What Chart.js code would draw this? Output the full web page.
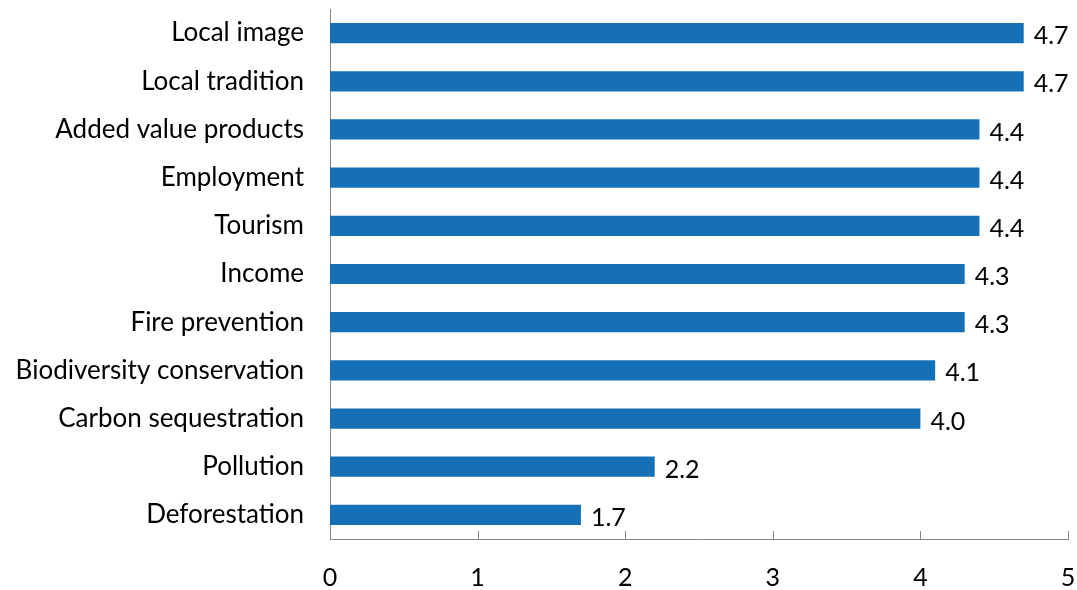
<!DOCTYPE html>
<html>
<head>
<meta charset="utf-8">
<script src="https://cdn.jsdelivr.net/npm/chart.js@4"></script>
<style>
  html, body { margin: 0; padding: 0; background: #fff; }
  #wrap { width: 1077px; height: 590px; }
</style>
</head>
<body>
<div id="wrap"><canvas id="impacts"></canvas></div>
<script>
const categories = [
  "Local image",
  "Local tradition",
  "Added value products",
  "Employment",
  "Tourism",
  "Income",
  "Fire prevention",
  "Biodiversity conservation",
  "Carbon sequestration",
  "Pollution",
  "Deforestation",
];
const scores = [4.7, 4.7, 4.4, 4.4, 4.4, 4.3, 4.3, 4.1, 4.0, 2.2, 1.7];
const xTicks = [0, 1, 2, 3, 4, 5];

const FONT = "Lato, 'Open Sans', sans-serif";
const FSIZE = 25;

// labels at the end of each bar
const barLabels = {
  id: "barLabels",
  afterDatasetsDraw(chart) {
    const { ctx } = chart;
    const meta = chart.getDatasetMeta(0);
    ctx.save();
    ctx.font = FSIZE + "px " + FONT;
    ctx.fillStyle = "#000";
    ctx.textAlign = "left";
    ctx.textBaseline = "middle";
    meta.data.forEach((bar, i) => {
      ctx.fillText(scores[i].toFixed(1), bar.x + 10, bar.y + 3);
    });
    ctx.restore();
  },
};

// small tick marks pointing up from the x axis
const innerTicks = {
  id: "innerTicks",
  afterDraw(chart) {
    const { ctx, chartArea } = chart;
    const x = chart.scales.x;
    ctx.save();
    ctx.strokeStyle = "#888";
    ctx.lineWidth = 1;
    xTicks.forEach((v) => {
      const px = Math.round(x.getPixelForValue(v)) + 0.5;
      ctx.beginPath();
      ctx.moveTo(px, chartArea.bottom);
      ctx.lineTo(px, chartArea.bottom - 8);
      ctx.stroke();
    });
    ctx.restore();
  },
};

new Chart(document.getElementById("impacts"), {
  type: "bar",
  data: {
    labels: categories,
    datasets: [
      {
        data: scores,
        backgroundColor: "#1570b8",
        barPercentage: 0.42,
        categoryPercentage: 1,
      },
    ],
  },
  options: {
    indexAxis: "y",
    responsive: true,
    maintainAspectRatio: false,
    animation: false,
    layout: { padding: { top: 9, right: 9, left: 0, bottom: 0 } },
    plugins: {
      legend: { display: false },
      tooltip: { enabled: false },
    },
    scales: {
      x: {
        min: 0,
        max: 5,
        afterBuildTicks: (s) => { s.ticks = xTicks.map((v) => ({ value: v })); },
        // grid hidden, tick length only used as spacing for the labels
        grid: { display: false, drawTicks: true, tickLength: 24 },
        border: { display: true, color: "#888", width: 1 },
        ticks: {
          color: "#000",
          font: { family: FONT, size: FSIZE },
          padding: 0,
        },
        afterFit: (s) => { s.height = 51; },
      },
      y: {
        grid: { display: false, drawTicks: true, tickLength: 26 },
        border: { display: true, color: "#888", width: 1 },
        ticks: {
          color: "#000",
          font: { family: FONT, size: 26, lineHeight: 0.6 },
          padding: 0,
        },
        afterFit: (s) => { s.width = 330; },
      },
    },
  },
  plugins: [barLabels, innerTicks],
});
</script>
</body>
</html>
